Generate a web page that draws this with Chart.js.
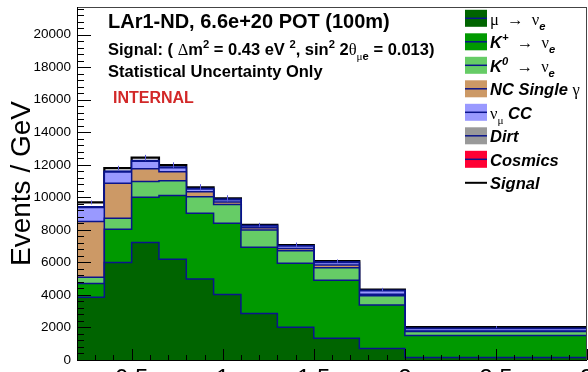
<!DOCTYPE html>
<html>
<head>
<meta charset="utf-8">
<script src="https://cdn.jsdelivr.net/npm/chart.js@4.4.1/dist/chart.umd.min.js"></script>
<style>
  html, body { margin: 0; padding: 0; background: #fff; overflow: hidden; }
  canvas { display: block; }
</style>
</head>
<body>
<canvas id="stack-chart" width="588" height="400"></canvas>
<script>
// bin edges in GeV (reconstructed energy)
const BIN_EDGES = [0.2, 0.35, 0.5, 0.65, 0.8, 0.95, 1.1, 1.3, 1.5, 1.75, 2.0, 3.0]

// events / GeV per bin (bottom to top)
const MU_NUE    = [3850, 6000, 7230, 6190, 4980, 4020, 2860, 2010, 1330, 700, 160]
const KPLUS_NUE = [860, 2030, 2770, 3930, 4040, 4380, 4070, 3930, 3570, 2680, 1340]
const KZERO_NUE = [380, 680, 980, 900, 1020, 1160, 1060, 780, 770, 570, 250]
const NC_GAMMA  = [3430, 2150, 770, 550, 300, 160, 140, 140, 170, 90, 30]
const NUMU_CC   = [850, 690, 470, 250, 170, 130, 110, 150, 160, 220, 150]
const DIRT      = [40, 35, 30, 25, 20, 20, 15, 15, 15, 10, 10]
const COSMICS   = [15, 12, 10, 10, 8, 8, 6, 5, 5, 4, 3]
const SIGNAL    = [260, 200, 180, 130, 80, 60, 40, 40, 60, 60, 80]
const STAT_ERR  = [120, 140, 170, 170, 190, 190, 130, 150, 100, 100, 60]

const X_TICKS = [0.5, 1, 1.5, 2, 2.5, 3]
const X_TICK_LABELS = ['0.5', '1', '1.5', '2', '2.5', '3']
const Y_TICKS = [0, 2000, 4000, 6000, 8000, 10000, 12000, 14000, 16000, 18000, 20000]
const Y_MAX = 21700

const NAVY = 'rgb(10, 20, 140)'
const SANS = '"Liberation Sans", Arial, sans-serif'
const SERIF = '"Liberation Serif", "DejaVu Serif", serif'

const COMPONENTS = [
    {values: MU_NUE, color: 'rgb(0, 100, 0)'},
    {values: KPLUS_NUE, color: 'rgb(0, 153, 0)'},
    {values: KZERO_NUE, color: 'rgb(102, 204, 102)'},
    {values: NC_GAMMA, color: 'rgb(204, 153, 102)'},
    {values: NUMU_CC, color: 'rgb(153, 153, 255)'},
    {values: DIRT, color: 'rgb(153, 153, 153)'},
    {values: COSMICS, color: 'rgb(255, 0, 51)'},
]

// legend text, in pieces so greek letters / sub- and superscripts can be set apart
const LEGEND = [
    {color: COMPONENTS[0].color, parts: [{t: 'μ', f: 's'}, {t: '  →  ', f: 's'}, {t: 'ν', f: 's'}, {t: 'e', f: 'bi', pos: 'sub'}]},
    {color: COMPONENTS[1].color, parts: [{t: 'K', f: 'bi'}, {t: '+', f: 'bi', pos: 'sup'}, {t: '  →  ', f: 's'}, {t: 'ν', f: 's'}, {t: 'e', f: 'bi', pos: 'sub'}]},
    {color: COMPONENTS[2].color, parts: [{t: 'K', f: 'bi'}, {t: '0', f: 'bi', pos: 'sup'}, {t: '  →  ', f: 's'}, {t: 'ν', f: 's'}, {t: 'e', f: 'bi', pos: 'sub'}]},
    {color: COMPONENTS[3].color, parts: [{t: 'NC Single ', f: 'bi'}, {t: 'γ', f: 's'}]},
    {color: COMPONENTS[4].color, parts: [{t: 'ν', f: 's'}, {t: 'μ', f: 's', pos: 'sub'}, {t: ' CC', f: 'bi'}]},
    {color: COMPONENTS[5].color, parts: [{t: 'Dirt', f: 'bi'}]},
    {color: COMPONENTS[6].color, parts: [{t: 'Cosmics', f: 'bi'}]},
    {color: null, parts: [{t: 'Signal', f: 'bi'}]},
]

const SIGNAL_TEXT = [
    {t: 'Signal: ( ', f: 'b'}, {t: 'Δ', f: 's'}, {t: 'm', f: 'b'}, {t: '2', f: 'b', pos: 'sup'},
    {t: ' = 0.43 eV ', f: 'b'}, {t: '2', f: 'b', pos: 'sup'}, {t: ', sin', f: 'b'}, {t: '2', f: 'b', pos: 'sup'},
    {t: ' 2', f: 'b'}, {t: 'θ', f: 's'}, {t: 'μ', f: 's', pos: 'sub'}, {t: 'e', f: 'b', pos: 'sub'},
    {t: ' = 0.013)', f: 'b'},
]

function fontFor(style, size) {
    if (style === 'b') return `bold ${size}px ${SANS}`
    if (style === 'bi') return `italic bold ${size}px ${SANS}`
    return `${size}px ${SERIF}`
}

function drawRich(ctx, x, y, parts, size) {
    parts.forEach(p => {
        const s = p.pos ? size * 0.68 : size
        let dy = 0
        if (p.pos === 'sup') dy = -size * 0.42
        if (p.pos === 'sub') dy = size * 0.3
        ctx.font = fontFor(p.f, s)
        ctx.fillText(p.t, x, y + dy)
        x += ctx.measureText(p.t).width
    })
}

// histogram outline as a stepped line: up the left edge, across the bins, down the right edge
function stepPoints(values) {
    const last = BIN_EDGES[BIN_EDGES.length - 1]
    const pts = [{x: BIN_EDGES[0], y: 0}]
    values.forEach((v, i) => pts.push({x: BIN_EDGES[i], y: v}))
    pts.push({x: last, y: values[values.length - 1]})
    pts.push({x: last, y: 0})
    return pts
}

let running = BIN_EDGES.slice(1).map(() => 0)
const datasets = COMPONENTS.map(c => {
    running = running.map((r, i) => r + c.values[i])
    return {
        data: stepPoints(running),
        stepped: 'before',
        fill: 'origin',
        backgroundColor: c.color,
        borderColor: NAVY,
        borderWidth: 1.5,
        pointRadius: 0,
    }
})
const totals = running.map((r, i) => r + SIGNAL[i])
datasets.push({
    data: stepPoints(totals),
    stepped: 'before',
    fill: false,
    borderColor: '#000',
    borderWidth: 2.2,
    pointRadius: 0,
})

const rootStyle = {
    id: 'rootStyle',
    afterDatasetsDraw(chart) {
        const {ctx, chartArea: a, scales: {x, y}} = chart
        ctx.save()
        // statistical error bars on the stack total
        ctx.strokeStyle = 'rgb(90, 90, 220)'
        ctx.lineWidth = 1
        ctx.beginPath()
        totals.forEach((t, i) => {
            const px = Math.round(x.getPixelForValue((BIN_EDGES[i] + BIN_EDGES[i + 1]) / 2)) + 0.5
            ctx.moveTo(px, y.getPixelForValue(t + STAT_ERR[i]))
            ctx.lineTo(px, y.getPixelForValue(t - STAT_ERR[i]))
        })
        ctx.stroke()

        // ticks drawn inside the frame
        ctx.strokeStyle = '#000'
        ctx.beginPath()
        for (let v = 0; v <= Y_MAX; v += 400) {
            const py = Math.round(y.getPixelForValue(v)) + 0.5
            const len = Y_TICKS.includes(v) ? 14 : 7
            ctx.moveTo(a.left, py)
            ctx.lineTo(a.left + len, py)
        }
        for (let k = 2; k <= 30; k++) {
            const px = Math.round(x.getPixelForValue(k / 10)) + 0.5
            const len = k % 5 === 0 ? 11 : 5
            ctx.moveTo(px, a.bottom)
            ctx.lineTo(px, a.bottom - len)
        }
        ctx.stroke()

        // frame
        ctx.strokeStyle = '#444'
        ctx.strokeRect(a.left + 0.5, a.top + 0.5, a.right - a.left - 1, a.bottom - a.top)
        ctx.strokeStyle = '#000'
        ctx.beginPath()
        ctx.moveTo(a.left + 0.5, a.top)
        ctx.lineTo(a.left + 0.5, a.bottom + 1)
        ctx.moveTo(a.left, a.bottom + 0.5)
        ctx.lineTo(a.right, a.bottom + 0.5)
        ctx.stroke()
        ctx.restore()
    },
    afterDraw(chart) {
        const ctx = chart.ctx
        ctx.save()
        ctx.fillStyle = '#000'
        ctx.textBaseline = 'alphabetic'
        ctx.font = `bold 20px ${SANS}`
        ctx.fillText('LAr1-ND, 6.6e+20 POT (100m)', 108, 28)
        drawRich(ctx, 108, 55, SIGNAL_TEXT, 16.5)
        ctx.font = `bold 16.5px ${SANS}`
        ctx.fillText('Statistical Uncertainty Only', 108, 77)
        ctx.fillStyle = 'rgb(210, 40, 40)'
        ctx.font = `bold 16px ${SANS}`
        ctx.fillText('INTERNAL', 113, 103)

        // legend
        LEGEND.forEach((item, i) => {
            const cy = 18.3 + i * 23.5
            if (item.color) {
                ctx.fillStyle = item.color
                ctx.fillRect(465, cy - 8.5, 22, 17)
                ctx.strokeStyle = NAVY
                ctx.lineWidth = 1.5
            } else {
                ctx.strokeStyle = '#000'
                ctx.lineWidth = 2
            }
            ctx.beginPath()
            ctx.moveTo(465, cy)
            ctx.lineTo(487, cy)
            ctx.stroke()
            ctx.fillStyle = '#000'
            drawRich(ctx, 490, cy + 6.5, item.parts, 16.5)
        })
        ctx.restore()
    }
}

const config = {
    type: 'line',
    data: {datasets: datasets},
    options: {
        responsive: false,
        animation: false,
        devicePixelRatio: 1,
        layout: {padding: {top: 7, right: 1, left: 0, bottom: 0}},
        scales: {
            x: {
                type: 'linear',
                min: BIN_EDGES[0],
                max: BIN_EDGES[BIN_EDGES.length - 1],
                grid: {display: false, drawTicks: false},
                border: {display: false},
                afterBuildTicks: scale => {
                    scale.ticks = X_TICKS.map(v => ({value: v}))
                },
                afterFit: scale => {
                    scale.height = 40
                    scale.paddingLeft = 0
                    scale.paddingRight = 0
                },
                ticks: {
                    color: '#000',
                    padding: 5,
                    maxRotation: 0,
                    autoSkip: false,
                    font: {family: SANS, size: 24},
                    callback: (value, index) => X_TICK_LABELS[index],
                },
            },
            y: {
                min: 0,
                max: Y_MAX,
                grid: {display: false, drawTicks: false},
                border: {display: false},
                afterBuildTicks: scale => {
                    scale.ticks = Y_TICKS.map(v => ({value: v}))
                },
                afterFit: scale => {
                    scale.width = 77
                    scale.paddingTop = 0
                    scale.paddingBottom = 0
                },
                ticks: {
                    color: '#000',
                    padding: 6,
                    font: {family: SANS, size: 13.5},
                    callback: value => String(value),
                },
                title: {
                    display: true,
                    text: 'Events / GeV',
                    color: '#000',
                    padding: {top: 5, bottom: 0},
                    font: {family: SANS, size: 28},
                },
            },
        },
        plugins: {
            legend: {display: false},
            tooltip: {enabled: false},
        },
    },
    plugins: [rootStyle],
}

new Chart(document.getElementById('stack-chart').getContext('2d'), config)
</script>
</body>
</html>
